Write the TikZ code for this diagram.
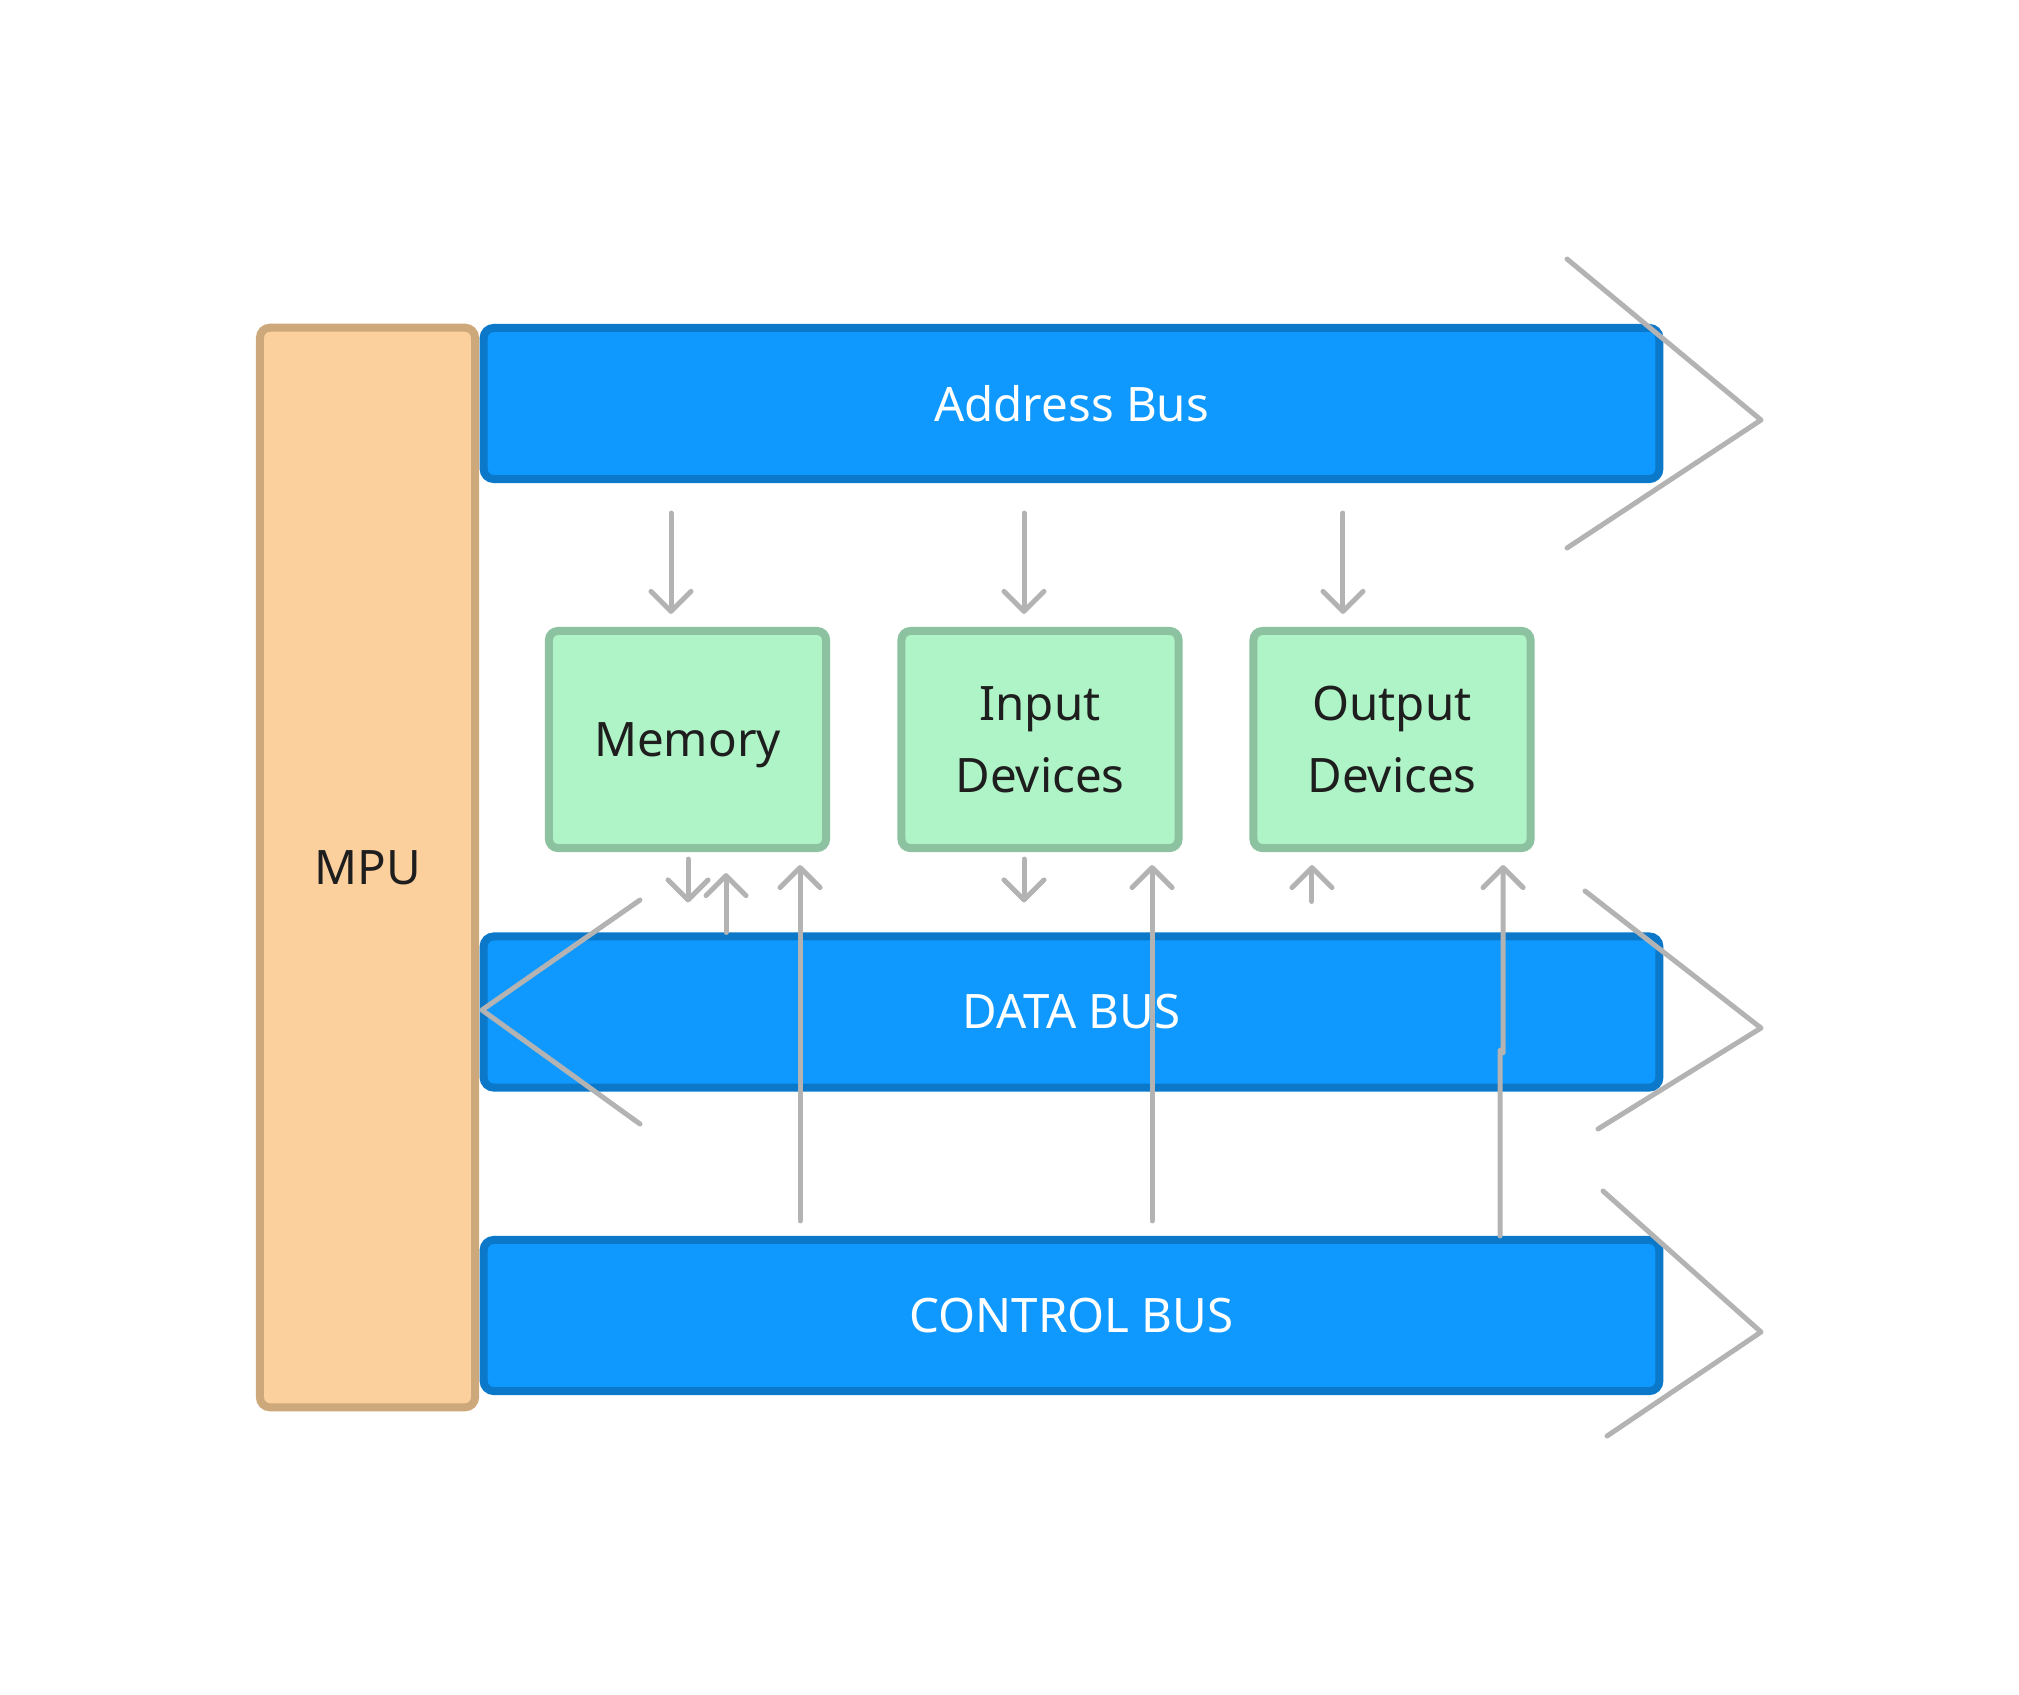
\documentclass[tikz,border=0pt]{standalone}
\usepackage{fontspec}
\setmainfont{Noto Sans}
\usetikzlibrary{arrows.meta}

\definecolor{busfill}{HTML}{0F99FF}
\definecolor{busline}{HTML}{0B78C9}
\definecolor{mpufill}{HTML}{FBD09D}
\definecolor{mpuline}{HTML}{CDA87B}
\definecolor{devfill}{HTML}{AFF4C6}
\definecolor{devline}{HTML}{8CC2A0}
\definecolor{wire}{HTML}{B3B3B3}
\definecolor{ink}{HTML}{1E1E1E}

\tikzset{
    label font/.style={font=\fontsize{13.5}{20.5}\selectfont},
    bus/.style={draw=busline, fill=busfill, line width=0.08cm, rounded corners=0.1cm,
        minimum width=11.75cm, minimum height=1.51cm, inner sep=0pt, text=white, label font},
    device/.style={draw=devline, fill=devfill, line width=0.08cm, rounded corners=0.09cm,
        minimum width=2.77cm, minimum height=2.17cm, inner sep=0pt, text=ink, align=center,
        text depth=0pt, label font},
    cpu/.style={draw=mpuline, fill=mpufill, line width=0.08cm, rounded corners=0.1cm,
        minimum width=2.15cm, minimum height=10.79cm, inner sep=0pt, text=ink, label font},
    wire/.style={draw=wire, line width=0.05cm, line cap=round, line join=round},
    arr/.style={wire, -{Straight Barb[length=0.2cm, width=0.4cm, round]}},
}

\begin{document}
\begin{tikzpicture}[x=0.01cm, y=-0.01cm]
    \useasboundingbox (0,0) rectangle (2019,1694);

    \node[cpu] (mpu) at (367.5,867.5) {MPU};

    \node[bus] (addr) at (1071.5,403.5) {Address Bus};
    \node[bus] (data) at (1071.5,1012) {DATA BUS};
    \node[bus] (ctrl) at (1071.5,1315.5) {CONTROL BUS};

    \node[device] (mem)  at (687.5,739.5) {Memory};
    \node[device] (inp)  at (1040,739.5)  {Input\\Devices};
    \node[device] (outp) at (1392,739.5)  {Output\\Devices};

    % bus directions
    \draw[wire] (1567,259) -- (1761,420) -- (1567,548);
    \draw[wire] (1585,891) -- (1761,1028) -- (1598,1129);
    \draw[wire] (640,900) -- (482,1010) -- (640,1124);
    \draw[wire] (1603,1191) -- (1761,1332) -- (1607,1436);

    % address bus to devices
    \draw[arr] ([xshift=-0.165cm,yshift=-0.3cm]mem.north |- addr.south) -- ([xshift=-0.165cm,yshift=0.13cm]mem.north);
    \draw[arr] ([xshift=-0.16cm,yshift=-0.3cm]inp.north |- addr.south) -- ([xshift=-0.16cm,yshift=0.13cm]inp.north);
    \draw[arr] ([xshift=-0.49cm,yshift=-0.3cm]outp.north |- addr.south) -- ([xshift=-0.49cm,yshift=0.13cm]outp.north);

    % devices and data bus
    \draw[arr] ([xshift=0.005cm,yshift=-0.07cm]mem.south) -- ([xshift=0.005cm,yshift=0.3cm]mem.south |- data.north);
    \draw[arr] ([xshift=0.385cm]mem.south |- data.north) -- ([xshift=0.385cm,yshift=-0.21cm]mem.south);
    \draw[arr] ([xshift=-0.16cm,yshift=-0.07cm]inp.south) -- ([xshift=-0.16cm,yshift=0.3cm]inp.south |- data.north);
    \draw[arr] ([xshift=-0.8cm,yshift=0.31cm]outp.south |- data.north) -- ([xshift=-0.8cm,yshift=-0.13cm]outp.south);

    % control bus to devices
    \draw[arr] ([xshift=1.125cm,yshift=0.15cm]mem.south |- ctrl.north) -- ([xshift=1.125cm,yshift=-0.13cm]mem.south);
    \draw[arr] ([xshift=1.12cm,yshift=0.15cm]inp.south |- ctrl.north) -- ([xshift=1.12cm,yshift=-0.13cm]inp.south);
    \draw[arr] ([xshift=1.08cm]outp.south |- ctrl.north) -- ([xshift=1.08cm,yshift=-0.38cm]data.center -| outp.south)
        -- ([xshift=1.11cm,yshift=-0.41cm]data.center -| outp.south) -- ([xshift=1.11cm,yshift=-0.13cm]outp.south);
\end{tikzpicture}
\end{document}
